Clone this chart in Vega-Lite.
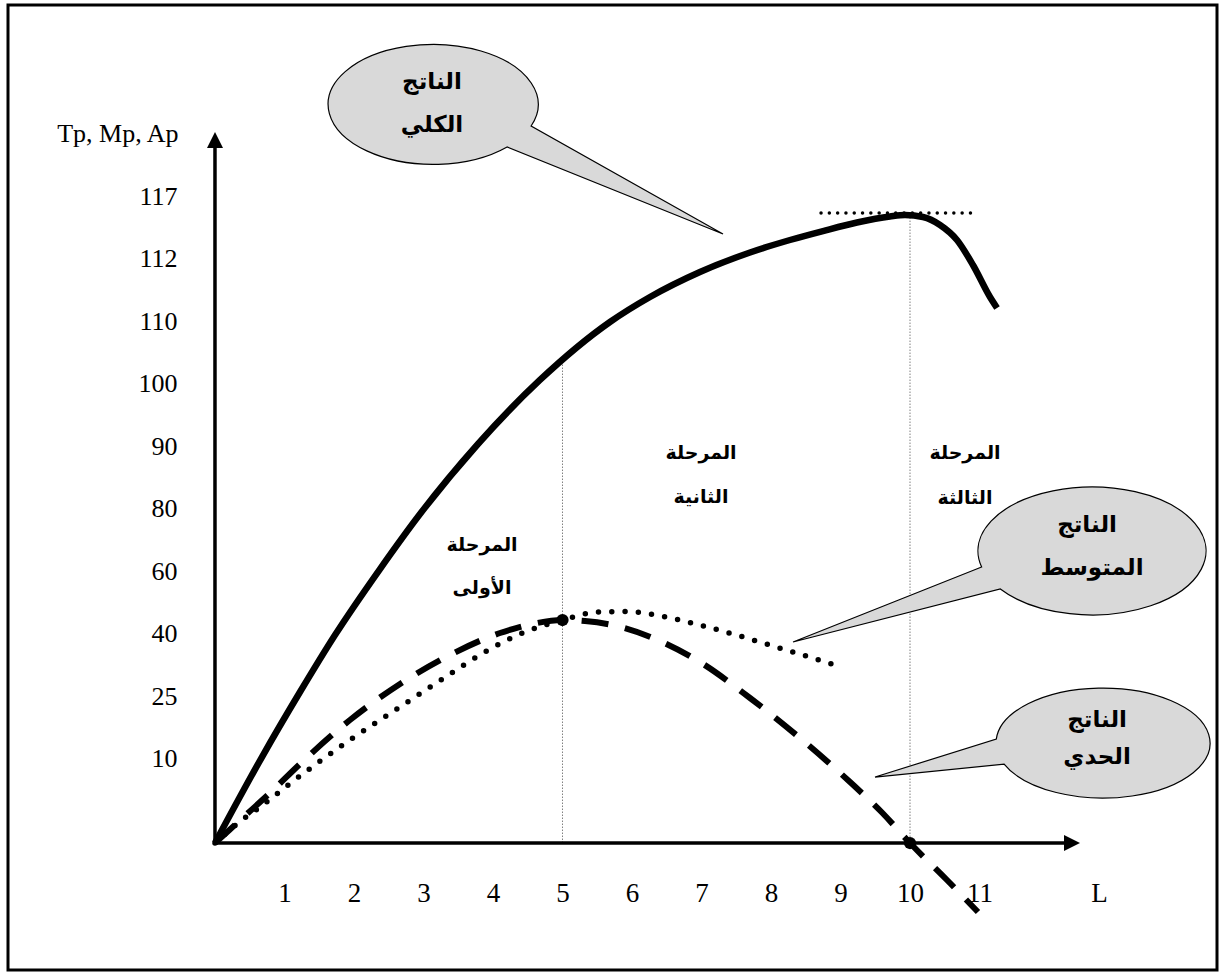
{
  "$schema": "https://vega.github.io/schema/vega-lite/v6.json",
  "width": 1209,
  "height": 965,
  "padding": {"left": 8, "top": 5, "right": 6, "bottom": 2},
  "autosize": {"type": "none"},
  "background": "white",
  "config": {"view": {"stroke": "black", "strokeWidth": 3}},
  "encoding": {
    "x": {
      "field": "x", "type": "quantitative",
      "scale": {"domain": [-2.978, 14.417], "nice": false, "zero": false},
      "axis": {
        "orient": "bottom", "values": [1, 2, 3, 4, 5, 6, 7, 8, 9, 10, 11, 12.72],
        "labelExpr": "datum.value > 12 ? 'L' : datum.label",
        "domain": false, "ticks": false, "tickSize": 0, "grid": false,
        "labelPadding": 0, "offset": -77, "labelBaseline": "middle",
        "labelFont": "Liberation Serif", "labelFontSize": 27, "labelColor": "black",
        "labelFlush": false, "labelOverlap": false, "title": null
      }
    },
    "y": {
      "field": "y", "type": "quantitative",
      "scale": {"domain": [-2.022, 13.344], "nice": false, "zero": false},
      "axis": {
        "orient": "left", "values": [1.34, 2.33, 3.33, 4.32, 5.32, 6.31, 7.31, 8.3, 9.3, 10.29],
        "labelExpr": "['10','25','40','60','80','90','100','110','112','117'][round(datum.value - 1.34)]",
        "domain": false, "ticks": false, "tickSize": 0, "grid": false,
        "labelPadding": 0, "offset": -169, "labelAlign": "right", "labelBaseline": "middle",
        "labelFont": "Liberation Serif", "labelFontSize": 26, "labelColor": "black",
        "labelFlush": false, "labelOverlap": false,
        "title": "Tp, Mp, Ap", "titleAngle": 0, "titleAlign": "right", "titleBaseline": "alphabetic",
        "titleX": 1, "titleY": 136, "titleFont": "Liberation Serif", "titleFontSize": 26,
        "titleFontWeight": "normal", "titleColor": "black"
      }
    }
  },
  "layer": [
    {
      "data": {"values": [{"x": 5, "y": 0, "y2": 7.66}, {"x": 10, "y": 0, "y2": 10.03}]},
      "mark": {"type": "rule", "color": "#808080", "strokeWidth": 1, "strokeDash": [1.5, 1.5]},
      "encoding": {"y2": {"field": "y2"}}
    },
    {
      "data": {"values": [{"x": 0, "y": 0, "x2": 0, "y2": 11.1}, {"x": 0, "y": 0, "x2": 12.25, "y2": 0}]},
      "mark": {"type": "rule", "color": "black", "strokeWidth": 3.5, "strokeCap": "square"},
      "encoding": {"x2": {"field": "x2"}, "y2": {"field": "y2"}}
    },
    {
      "data": {"values": [{"x": 8.72, "y": 10.03, "x2": 10.98}]},
      "mark": {"type": "rule", "color": "black", "strokeWidth": 3.5, "strokeDash": [0, 8.3], "strokeCap": "round"},
      "encoding": {"x2": {"field": "x2"}}
    },
    {
      "data": {"values": [
        {"x": 0, "y": 0}, {"x": 0.676, "y": 1.369}, {"x": 1.223, "y": 2.404}, {"x": 1.727, "y": 3.312},
        {"x": 2.374, "y": 4.363}, {"x": 2.95, "y": 5.239}, {"x": 3.784, "y": 6.354}, {"x": 4.676, "y": 7.373},
        {"x": 5.683, "y": 8.296}, {"x": 6.259, "y": 8.694}, {"x": 6.978, "y": 9.092}, {"x": 7.698, "y": 9.403},
        {"x": 8.273, "y": 9.602}, {"x": 8.748, "y": 9.745}, {"x": 9.237, "y": 9.881}, {"x": 9.712, "y": 9.976},
        {"x": 9.928, "y": 10.0}, {"x": 10.187, "y": 9.968}, {"x": 10.432, "y": 9.841}, {"x": 10.676, "y": 9.602},
        {"x": 10.906, "y": 9.204}, {"x": 11.151, "y": 8.694}, {"x": 11.252, "y": 8.519}
      ]},
      "mark": {"type": "line", "color": "black", "strokeWidth": 6.5, "interpolate": "monotone", "strokeCap": "butt"}
    },
    {
      "data": {"values": [
        {"x": 0, "y": 0}, {"x": 0.475, "y": 0.478}, {"x": 0.791, "y": 0.796}, {"x": 1.223, "y": 1.258},
        {"x": 1.942, "y": 1.959}, {"x": 2.662, "y": 2.532}, {"x": 3.381, "y": 2.994}, {"x": 4.101, "y": 3.344},
        {"x": 4.532, "y": 3.479}, {"x": 5, "y": 3.551}, {"x": 5.324, "y": 3.535}, {"x": 5.784, "y": 3.455},
        {"x": 6.403, "y": 3.217}, {"x": 6.978, "y": 2.882}, {"x": 7.698, "y": 2.309}, {"x": 8.417, "y": 1.672},
        {"x": 9.137, "y": 0.971}, {"x": 9.597, "y": 0.486}, {"x": 10, "y": 0}, {"x": 10.532, "y": -0.589},
        {"x": 10.978, "y": -1.099}
      ]},
      "mark": {"type": "line", "color": "black", "strokeWidth": 6, "interpolate": "monotone", "strokeDash": [27, 17], "strokeCap": "butt"}
    },
    {
      "data": {"values": [
        {"x": 0, "y": 0}, {"x": 0.331, "y": 0.318}, {"x": 0.647, "y": 0.573}, {"x": 1.108, "y": 0.971},
        {"x": 1.942, "y": 1.64}, {"x": 2.662, "y": 2.166}, {"x": 3.381, "y": 2.691}, {"x": 3.856, "y": 3.025},
        {"x": 4.388, "y": 3.328}, {"x": 5, "y": 3.551}, {"x": 5.511, "y": 3.678}, {"x": 5.899, "y": 3.686},
        {"x": 6.489, "y": 3.599}, {"x": 6.978, "y": 3.471}, {"x": 8.173, "y": 3.089}, {"x": 8.921, "y": 2.834}
      ]},
      "mark": {"type": "line", "color": "black", "strokeWidth": 5.5, "interpolate": "monotone", "strokeDash": [0, 13.3], "strokeCap": "round"}
    },
    {
      "data": {"values": [{"x": 5, "y": 3.551}, {"x": 10, "y": 0}]},
      "mark": {"type": "point", "shape": "circle", "filled": true, "color": "black", "size": 150, "opacity": 1}
    },
    {
      "data": {"values": [{"x": 0, "y": 11.194}]},
      "mark": {"type": "point", "shape": "M 0 -1 L 1 1 L -1 1 Z", "filled": true, "color": "black", "size": 256, "opacity": 1}
    },
    {
      "data": {"values": [{"x": 12.331, "y": 0}]},
      "mark": {"type": "point", "shape": "M 1 0 L -1 1 L -1 -1 Z", "filled": true, "color": "black", "size": 256, "opacity": 1}
    },
    {
      "data": {"values": [{"x": 3.137, "y": 11.76}]},
      "mark": {"type": "point", "shape": "M 0.981 0.215 A 1.05 0.6 0 1 0 0.741 0.425 L 2.9 1.295 Z", "size": 40000, "filled": true, "fill": "#d9d9d9", "stroke": "black", "strokeWidth": 1.2, "opacity": 1}
    },
    {
      "data": {"values": [{"x": 12.619, "y": 4.65}]},
      "mark": {"type": "point", "shape": "M -1.104 0.16 A 1.14 0.64 0 1 1 -0.917 0.38 L -2.99 0.91 Z", "size": 40000, "filled": true, "fill": "#d9d9d9", "stroke": "black", "strokeWidth": 1.2, "opacity": 1}
    },
    {
      "data": {"values": [{"x": 12.777, "y": 1.592}]},
      "mark": {"type": "point", "shape": "M -1.067 -0.04 A 1.07 0.55 0 1 1 -0.989 0.21 L -2.28 0.34 Z", "size": 40000, "filled": true, "fill": "#d9d9d9", "stroke": "black", "strokeWidth": 1.2, "opacity": 1}
    },
    {
      "data": {"values": [
        {"x": 3.842, "y": 4.745, "t": "المرحلة"}, {"x": 3.842, "y": 4.06, "t": "الأولى"},
        {"x": 6.993, "y": 6.21, "t": "المرحلة"}, {"x": 6.993, "y": 5.51, "t": "الثانية"},
        {"x": 10.791, "y": 6.21, "t": "المرحلة"}, {"x": 10.791, "y": 5.494, "t": "الثالثة"}
      ]},
      "mark": {"type": "text", "font": "DejaVu Sans", "fontWeight": "bold", "fontSize": 19, "color": "black", "align": "center", "baseline": "middle"},
      "encoding": {"text": {"field": "t"}}
    },
    {
      "data": {"values": [
        {"x": 3.122, "y": 12.118, "t": "الناتج"}, {"x": 3.122, "y": 11.433, "t": "الكلي"},
        {"x": 12.547, "y": 5.064, "t": "الناتج"}, {"x": 12.619, "y": 4.379, "t": "المتوسط"},
        {"x": 12.691, "y": 1.959, "t": "الناتج"}, {"x": 12.691, "y": 1.369, "t": "الحدي"}
      ]},
      "mark": {"type": "text", "font": "DejaVu Sans", "fontWeight": "bold", "fontSize": 23, "color": "black", "align": "center", "baseline": "middle"},
      "encoding": {"text": {"field": "t"}}
    }
  ]
}
